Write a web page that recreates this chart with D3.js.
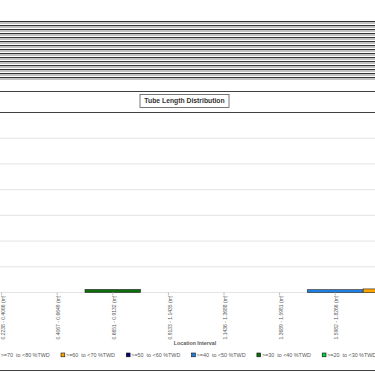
<!DOCTYPE html>
<html>
<head>
<meta charset="utf-8">
<script src="https://cdn.jsdelivr.net/npm/d3@7"></script>
<style>
  html, body { margin: 0; padding: 0; background: #fff; }
  svg { display: block; font-family: "Liberation Sans", Arial, sans-serif; }
</style>
</head>
<body>
<div class="container"></div>
<script>
// chart values
const categories = ['0.2238 - 0.4066 (m)', '0.4067 - 0.6649 (m)', '0.6651 - 0.9132 (m)', '0.9133 - 1.1435 (m)',
  '1.1436 - 1.3688 (m)', '1.3689 - 1.5981 (m)', '1.5982 - 1.8266 (m)', '1.8267 - 2.0551 (m)'];
const visibleTicks = categories.slice(0, 7);
const seriesNames = ['>=70  to <80 %TWD', '>=60  to <70 %TWD', '>=50  to <60 %TWD',
  '>=40  to <50 %TWD', '>=30  to <40 %TWD', '>=20  to <30 %TWD'];
const seriesColors = ['#c00000', '#ffa500', '#000080', '#1e7fe0', '#0b6e0b', '#00d040'];
const twd70 = [0, 0, 0, 0, 0, 0, 0, 0];
const twd60 = [0, 0, 0, 0, 0, 0, 0, 0.1];
const twd50 = [0, 0, 0, 0, 0, 0, 0, 0];
const twd40 = [0, 0, 0, 0, 0, 0, 0.07, 0];
const twd30 = [0, 0, 0.08, 0, 0, 0, 0, 0];
const twd20 = [0, 0, 0, 0, 0, 0, 0, 0];
const yTicks = [0, 1, 2, 3, 4, 5, 6, 7];

const seriesValues = [twd70, twd60, twd50, twd40, twd30, twd20];
const table = categories.map(function(c, i) {
  const row = { cat: c };
  seriesNames.forEach(function(s, j) { row[s] = seriesValues[j][i]; });
  return row;
});

const width = 375, height = 375;
const svg = d3.select('.container').append('svg')
  .attr('width', width).attr('height', height);

// striped block at the top (collapsed header rows)
const stripes = d3.range(21, 81, 4);
svg.append('g').selectAll('rect.dark')
  .data(stripes).enter().append('rect')
  .attr('x', 0).attr('width', width)
  .attr('y', function(d){ return d; }).attr('height', 1)
  .attr('fill', '#333');
svg.append('g').selectAll('rect.light')
  .data(stripes).enter().append('rect')
  .attr('x', 0).attr('width', width)
  .attr('y', function(d){ return d + 1.2; }).attr('height', 1.6)
  .attr('fill', '#b5b5b5');

// frame lines
svg.append('line').attr('x1', 0).attr('x2', width).attr('y1', 91.5).attr('y2', 91.5)
  .attr('stroke', '#404040').attr('stroke-width', 1);
svg.append('line').attr('x1', 0).attr('x2', width).attr('y1', 370.5).attr('y2', 370.5)
  .attr('stroke', '#404040').attr('stroke-width', 1);

// title
const title = svg.append('g').attr('transform', 'translate(184.5,101)');
title.append('rect').attr('x', -44.5).attr('y', -6.5).attr('width', 89).attr('height', 13)
  .attr('fill', '#fff').attr('stroke', '#555').attr('stroke-width', 0.8);
title.append('text').text('Tube Length Distribution')
  .attr('text-anchor', 'middle').attr('dy', '0.35em')
  .attr('font-size', '6.8px').attr('font-weight', 'bold').attr('fill', '#333');

// scales
const plotTop = 112.5, plotBase = 292.5;
const yScale = d3.scaleLinear().domain([0, 7]).range([plotBase, plotTop]);
const xScale = d3.scaleBand().domain(categories).range([-26.2, 418.6]).padding(0);

// gridlines
svg.append('g').selectAll('line')
  .data(yTicks).enter().append('line')
  .attr('x1', 0).attr('x2', width)
  .attr('y1', function(d){ return yScale(d); }).attr('y2', function(d){ return yScale(d); })
  .attr('stroke', function(d){ return d === 7 ? '#404040' : '#e3e3e3'; })
  .attr('stroke-width', 1);

// stacked bars
const stack = d3.stack().keys(seriesNames)(table);
svg.append('g').selectAll('g')
  .data(stack).enter().append('g')
  .attr('fill', function(d, i){ return seriesColors[i]; })
  .selectAll('rect')
  .data(function(d){ return d.filter(function(p){ return p[1] - p[0] > 0; }); })
  .enter().append('rect')
  .attr('x', function(d){ return xScale(d.data.cat); })
  .attr('width', xScale.bandwidth())
  .attr('y', function(d){ return yScale(d[1]) - 1; })
  .attr('height', function(d){ return yScale(d[0]) - yScale(d[1]) + 1; })
  .attr('stroke', '#222').attr('stroke-width', 0.6);

// x axis
const xAxis = svg.append('g')
  .attr('transform', 'translate(0,' + plotBase + ')')
  .call(d3.axisBottom(xScale).tickValues(visibleTicks).tickSize(3).tickPadding(2));
xAxis.select('.domain').remove();
xAxis.selectAll('.tick line').attr('stroke', '#bfbfbf');
xAxis.selectAll('text')
  .attr('font-size', '5px')
  .attr('fill', '#595959')
  .attr('font-family', '"Liberation Sans", Arial, sans-serif')
  .style('text-anchor', 'end')
  .attr('x', -3).attr('y', 1.5)
  .attr('dy', '0.35em')
  .attr('transform', 'rotate(-90)');

svg.append('text').text('Location Interval')
  .attr('x', 195).attr('y', 345)
  .attr('text-anchor', 'middle')
  .attr('font-size', '5.3px').attr('font-weight', 'bold').attr('fill', '#595959');

// legend
const legend = svg.append('g').selectAll('g')
  .data(seriesNames).enter().append('g')
  .attr('transform', function(d, i){ return 'translate(' + (-4.3 + i * 65.3) + ',355)'; });
legend.append('rect')
  .attr('x', 0).attr('y', -2).attr('width', 3.8).attr('height', 3.8)
  .attr('fill', function(d, i){ return seriesColors[i]; })
  .attr('stroke', '#111').attr('stroke-width', 0.6);
legend.append('text').text(function(d){ return d; })
  .attr('x', 5).attr('y', 0).attr('dy', '0.33em')
  .attr('font-size', '5.4px').attr('fill', '#595959')
  .style('white-space', 'pre');
</script>
</body>
</html>
